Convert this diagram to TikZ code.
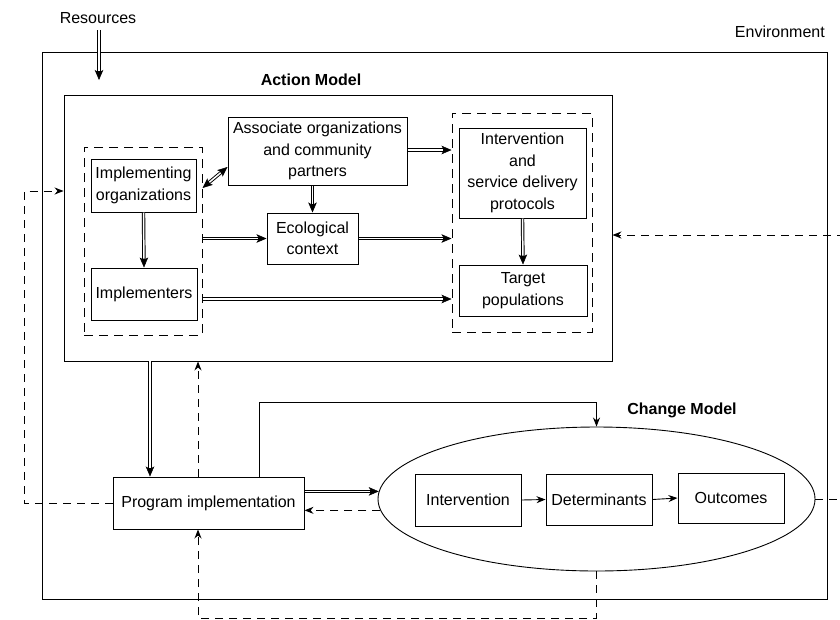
\documentclass[tikz,border=0pt]{standalone}
\usepackage{fontspec}
\setmainfont{Liberation Sans}
\usetikzlibrary{arrows.meta,shapes.geometric}

\begin{document}
\begin{tikzpicture}[x=1pt,y=-1pt,
  txt/.style={font=\fontsize{16}{21.5}\selectfont, align=center},
  lbl/.style={txt, inner sep=0pt},
  title/.style={txt, font=\fontsize{16}{21.5}\selectfont\bfseries, inner sep=0pt},
  box/.style={txt, draw, line width=1pt, inner sep=0pt},
  group/.style={draw, line width=1pt, dash pattern=on 9pt off 6pt, inner sep=0pt},
  frame/.style={draw, line width=0.9pt, inner sep=0pt},
  dtip/.tip={Stealth[length=10pt,width=8.5pt,inset=2.5pt,line width=0.5pt]},
  % hollow double shaft: a thick black stroke with a thin white core
  dbl/.style={line width=3.4pt, -dtip,
    postaction={draw=white, line width=1.5pt, -, shorten >=9pt}},
  dblboth/.style={line width=3.4pt, dtip-dtip,
    postaction={draw=white, line width=1.5pt, -, shorten >=9pt, shorten <=9pt}},
  sarrow/.style={line width=0.9pt, -{Stealth[length=9pt,width=7pt]}},
  dsh/.style={line width=1pt, dash pattern=on 8pt off 6pt, -{Stealth[length=9pt,width=7pt]}}
]
\useasboundingbox (0,0) rectangle (840,619);

% outer frames
\node[frame, minimum width=785pt, minimum height=547pt] (env) at (434.5,325.5) {};
\node[frame, minimum width=548pt, minimum height=266pt] (action) at (338,228) {};

% labels
\node[lbl] (res) at (98,18) {Resources};
\node[lbl, anchor=east] (envlbl) at (825,32) {Environment};
\node[title] (amlbl) at (311,80) {Action Model};
\node[title] (cmlbl) at (682,410) {Change Model};

% dashed groupings
\node[group, minimum width=118pt, minimum height=188pt] (leftgrp) at (143,241) {};
\node[group, minimum width=140pt, minimum height=219pt] (rightgrp) at (522,222.5) {};

% action model boxes
\node[box, minimum width=105pt, minimum height=53pt] (implorg) at (143.5,185.5) {Implementing\\organizations};
\node[box, minimum width=106pt, minimum height=52pt] (implementers) at (144,294) {Implementers};
\node[box, minimum width=179pt, minimum height=68pt] (assoc) at (317.5,151) {Associate organizations\\and community\\partners};
\node[box, minimum width=91pt, minimum height=51pt] (eco) at (312.5,238.5) {Ecological\\context};
\node[box, minimum width=127pt, minimum height=90pt] (isd) at (522.5,173) {Intervention\\and\\service delivery\\protocols};
\node[box, minimum width=128pt, minimum height=51pt] (target) at (523,290.5) {Target\\populations};

% program implementation and change model
\node[box, minimum width=191pt, minimum height=52pt] (progimpl) at (208.5,503) {Program implementation};
\node[ellipse, draw, line width=0.9pt, minimum width=437pt, minimum height=144pt, inner sep=0pt] (cm) at (596.5,499) {};
\node[box, minimum width=106pt, minimum height=52pt] (interv) at (468,500) {Intervention};
\node[box, minimum width=106pt, minimum height=51pt] (determ) at (599,499.5) {Determinants};
\node[box, minimum width=106pt, minimum height=50pt] (outc) at (731,498) {Outcomes};

% resources input
\coordinate (resin) at (99,80);
\draw[dbl] (res.south -| resin) ++(0,6) -- (resin);

% action model flows
\draw[dblboth] (leftgrp.east |- 0,188) -- (assoc.west |- 0,167);
\draw[dbl] (assoc.east |- 0,150) -- (rightgrp.west |- 0,150);
\draw[dbl] (eco.north |- assoc.south) -- (eco.north);
\draw[dbl] (implorg.south) -- (implementers.north);
\draw[dbl] (leftgrp.east |- eco.west) -- (eco.west);
\draw[dbl] (eco.east) -- (eco.east -| rightgrp.west);
\draw[dbl] (leftgrp.east |- 0,299) -- (rightgrp.west |- 0,299);
\draw[dbl] (isd.south) -- (target.north);

% between action model and program implementation
\draw[dbl] (action.south -| 150,0) -- (progimpl.north -| 150,0);
\draw[dsh] (progimpl.north -| 198,0) -- (action.south -| 198,0);

% program implementation and change model
\draw[dbl] (progimpl.east |- cm.178.4) -- (cm.178.4);
\draw[dsh] (cm.183.4) -- (progimpl.east |- cm.183.4);
\draw[sarrow] (progimpl.north -| 259,0) |- (cm.north |- 0,402) -- (cm.north);
\draw[sarrow] (interv.east) -- (determ.west);
\draw[sarrow] (determ.east) -- (outc.west);

% feedback loops
\coordinate (lft) at (24,191);
\draw[dsh] (progimpl.west) -| (lft) -- (action.west |- lft);
\coordinate (rgt) at (852,235);
\draw[dsh] (cm.east) -| (rgt) -- (action.east |- rgt);
\coordinate (btm) at (198,618);
\draw[dsh] (cm.south) |- (btm) -- (progimpl.south -| btm);
\end{tikzpicture}
\end{document}
